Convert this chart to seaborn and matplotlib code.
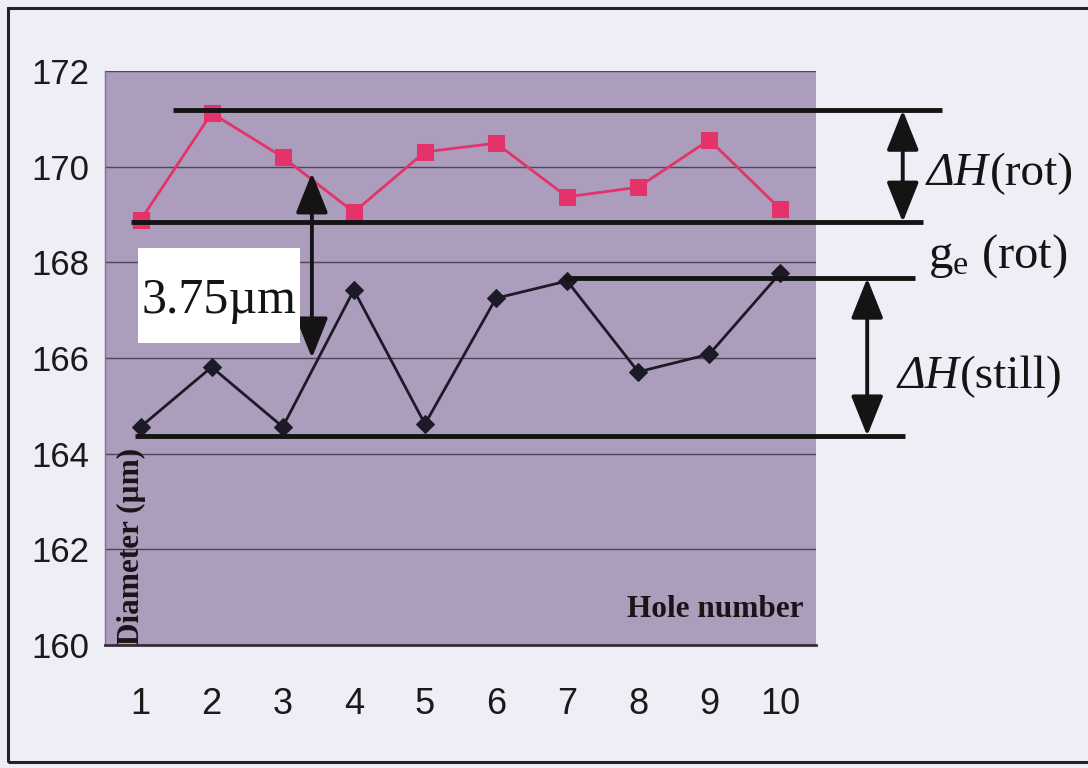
import numpy as np
import pandas as pd
import matplotlib
matplotlib.use("Agg")
import matplotlib.pyplot as plt
from matplotlib.patches import Rectangle
import seaborn as sns

# Hole diameters (µm), rotating vs. stationary
holes = list(range(1, 11))
diam_rot = [168.88, 171.12, 170.20, 169.05, 170.31, 170.49, 169.37, 169.57, 170.56, 169.11]
diam_still = [164.56, 165.81, 164.56, 167.42, 164.62, 167.25, 167.61, 165.71, 166.08, 167.78]
y_ticks = [160, 162, 164, 166, 168, 170, 172]

# Horizontal band limits drawn over the data
band_levels = [171.18, 168.84, 167.67, 164.37]
band_x_start = [1.46, 0.87, 6.95, 0.92]
band_x_end = [12.27, 12.0, 11.89, 11.75]

# Gap arrow and its label
gap_label = "3.75µm"
gap_x = 3.41
gap_top, gap_bottom = 169.87, 166.0

sns.set_style("white")
plt.rcParams["font.family"] = ["Liberation Sans", "DejaVu Sans"]
plt.rcParams["mathtext.fontset"] = "custom"
plt.rcParams["mathtext.rm"] = "Liberation Serif"
plt.rcParams["mathtext.it"] = "Liberation Serif:italic"

PAGE = "#eeeef7"
PLOT_BG = "#ab9dbb"
RED = "#e4336a"
DARK = "#1d1a28"
INK = "#141414"
SERIF = "Liberation Serif"

fig = plt.figure(figsize=(10.88, 7.68), dpi=100, facecolor=PAGE)
ax = fig.add_axes([105 / 1088, 1 - 645 / 768, 711 / 1088, 574 / 768])
ax.set_facecolor(PLOT_BG)

df = pd.DataFrame({"hole": holes, "rot": diam_rot, "still": diam_still})

sns.lineplot(data=df, x="hole", y="rot", ax=ax, color=RED, lw=2,
             marker="s", markersize=11, markeredgecolor=RED, zorder=3)
sns.lineplot(data=df, x="hole", y="still", ax=ax, color=DARK, lw=2,
             marker="D", markersize=9, markeredgecolor=DARK, zorder=3)

ax.set_xlim(0.5, 10.5)
ax.set_ylim(160, 172)
ax.set_yticks(y_ticks)
ax.set_xticks(holes)
ax.set_xticks(np.arange(0.5, 11, 1), minor=True)
ax.grid(axis="y", color="#4e4658", lw=1)
ax.grid(axis="x", visible=False)
ax.set_axisbelow(True)

for side in ("top", "right"):
    ax.spines[side].set_visible(False)
ax.spines["left"].set_color("#7d7088")
ax.spines["left"].set_linewidth(1)
ax.spines["bottom"].set_color("#3a2c3c")
ax.spines["bottom"].set_linewidth(2)

ax.tick_params(axis="x", which="major", length=0, pad=30, labelsize=26, labelcolor="#1a1a1a")
ax.tick_params(axis="x", which="minor", length=7, width=1, color="#666", direction="out")
ax.tick_params(axis="y", which="major", length=7, width=1, color="#666", direction="out",
               pad=4, labelsize=25, labelcolor="#1a1a1a")

ax.set_xlabel("Hole number", family=SERIF, weight="bold", fontsize=22.5, color="#1a1418")
ax.xaxis.set_label_coords(0.858, 0.087)
ax.set_ylabel("Diameter (µm)", family=SERIF, weight="bold", fontsize=22.5, color="#1a1418")
ax.yaxis.set_label_coords(0.057, 0.171)

# Band lines
for lvl, x0, x1 in zip(band_levels, band_x_start, band_x_end):
    ax.hlines(lvl, x0, x1, color=INK, lw=3.5, zorder=5, clip_on=False)

arrow_kw = dict(arrowstyle="<|-|>,head_length=0.55,head_width=0.22", color=INK,
                lw=2.8, shrinkA=0, shrinkB=0, mutation_scale=45)

# Gap arrow with boxed label
ax.annotate("", xy=(gap_x, gap_top), xytext=(gap_x, gap_bottom),
            arrowprops=arrow_kw, zorder=6, annotation_clip=False)
ax.add_patch(Rectangle((0.964, 166.31), 2.278, 1.99, facecolor="white",
                       edgecolor="none", zorder=6))
ax.text(2.10, 166.94, gap_label, family=SERIF, fontsize=36,
        ha="center", va="baseline", color=INK, zorder=7)

# Spread arrows on the right
ax.annotate("", xy=(11.72, band_levels[0]), xytext=(11.72, band_levels[1]),
            arrowprops=arrow_kw, zorder=6, annotation_clip=False)
ax.annotate("", xy=(11.22, band_levels[2]), xytext=(11.22, band_levels[3]),
            arrowprops=arrow_kw, zorder=6, annotation_clip=False)


def delta_label(x, y, rest):
    """Italic ΔH followed by an upright suffix."""
    head = ax.text(x, y, "ΔH", family=SERIF, style="italic", fontsize=34,
                   ha="left", va="baseline", color=INK, clip_on=False)
    ax.annotate(rest, xy=(1, 0), xycoords=head, xytext=(0.5, 0),
                textcoords="offset points", family=SERIF, fontsize=34,
                ha="left", va="bottom", color=INK, annotation_clip=False)


delta_label(12.06, 169.62, "(rot)")
ax.text(12.08, 167.88, r"g$_\mathrm{e}$ (rot)", family=SERIF,
        fontsize=35, ha="left", va="baseline", color=INK, clip_on=False)
delta_label(11.65, 165.37, "(still)")

# Outer frame
fig.add_artist(Rectangle((8 / 1088, 1 - 762 / 768), 1.2, 754 / 768,
                         transform=fig.transFigure, fill=False,
                         edgecolor="#232323", lw=2.2))

fig.savefig("out.png", dpi=100, facecolor=PAGE)
